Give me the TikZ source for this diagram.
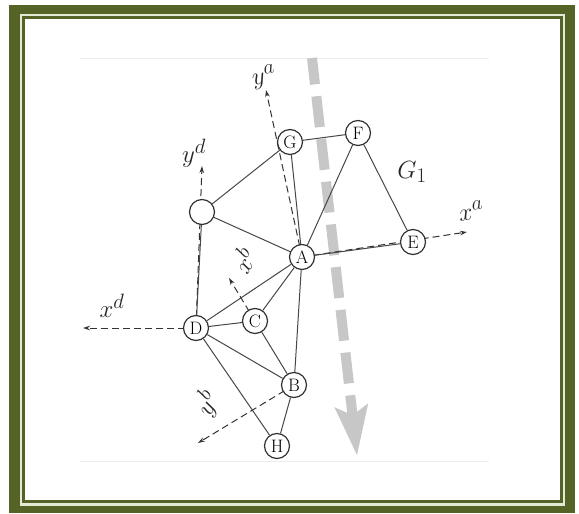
\documentclass[tikz,border=0pt]{standalone}
\usetikzlibrary{arrows.meta}
\definecolor{olive}{RGB}{85,99,39}
\definecolor{framelight}{RGB}{228,234,214}
\begin{document}
\begin{tikzpicture}[x=1pt,y=-1pt,
  vtx/.style={circle,draw=black!80,line width=1.2pt,minimum size=25pt,inner sep=0pt,fill=white,font=\fontsize{18}{18}\selectfont},
  edge/.style={draw=black!72,line width=1pt},
  axis/.style={draw=black!80,line width=1pt,dash pattern=on 7pt off 4pt,-{Stealth[length=7pt,width=4.5pt]}},
  axlabel/.style={font=\fontsize{29}{29}\selectfont,inner sep=0pt,text=black!85},
  bigarrow/.style={black!22}
]
\useasboundingbox (0,0) rectangle (579,514);
% frame
\fill[white] (0,0) rectangle (579,514);
\fill[olive] (9,5) rectangle (575,513);
\fill[framelight] (20,14) rectangle (565,506);
\fill[olive] (22,16) rectangle (563,503);
\fill[white] (25,19) rectangle (560,500);
\draw[black!7,line width=0.6pt] (80,58) -- (489,58);
\draw[black!7,line width=0.6pt] (80,461) -- (489,461);

% big gray dashed arrow
\draw[bigarrow,line width=10pt,dash pattern=on 31pt off 12pt,dash phase=4.5pt] (312,58) -- (352.5,415);
\fill[bigarrow] (357,455) -- (368.2,403.4) -- (352.5,415.3) -- (334.4,407.2) -- cycle;

% nodes positions
\coordinate (pG) at (290,142);
\coordinate (pF) at (358,133);
\coordinate (pE) at (413,242);
\coordinate (pA) at (302,257);
\coordinate (pI) at (202,212);
\coordinate (pD) at (196,328);
\coordinate (pC) at (255,321);
\coordinate (pB) at (294,385);
\coordinate (pH) at (277,446);

% axis tips
\coordinate (ya) at (266,90);
\coordinate (yd) at (202,166);
\coordinate (xa) at (467,232);
\coordinate (xd) at (83,328);
\coordinate (xb) at (229,278);
\coordinate (yb) at (198,443);

% axes
\draw[axis] (pA) -- (ya);
\draw[axis] (pA) -- (xa);
\draw[axis] (pD) -- (yd);
\draw[axis] (pD) -- (xd);
\draw[axis] (pC) -- (xb);
\draw[axis] (pB) -- (yb);

% vertices
\node[vtx] (G) at (pG) {G};
\node[vtx] (F) at (pF) {F};
\node[vtx] (E) at (pE) {E};
\node[vtx] (A) at (pA) {A};
\node[vtx] (I) at (pI) {};
\node[vtx] (D) at (pD) {D};
\node[vtx] (C) at (pC) {C};
\node[vtx] (B) at (pB) {B};
\node[vtx] (H) at (pH) {H};

% edges
\draw[edge] (G) -- (F);
\draw[edge] (G) -- (I);
\draw[edge] (G) -- (A);
\draw[edge] (F) -- (A);
\draw[edge] (F) -- (E);
\draw[edge] (A) -- (E);
\draw[edge] (I) -- (A);
\draw[edge] (I) -- (D);
\draw[edge] (D) -- (A);
\draw[edge] (D) -- (C);
\draw[edge] (D) -- (B);
\draw[edge] (D) -- (H);
\draw[edge] (C) -- (A);
\draw[edge] (C) -- (B);
\draw[edge] (A) -- (B);
\draw[edge] (B) -- (H);

% labels
\node[axlabel,rotate=10] (lya) at (264,77) {$y^a$};
\node[axlabel] (lyd) at (194,153) {$y^d$};
\node[axlabel,rotate=8] (lxa) at (471,211) {$x^a$};
\node[axlabel] (lxd) at (112,306) {$x^d$};
\node[axlabel,rotate=60] (lxb) at (243,260) {$x^b$};
\node[axlabel,rotate=60] (lyb) at (207,403) {$y^b$};
\node[font=\fontsize{31}{31}\selectfont,inner sep=0pt,text=black!85] (G1) at (412,172) {$G_1$};
\end{tikzpicture}
\end{document}
